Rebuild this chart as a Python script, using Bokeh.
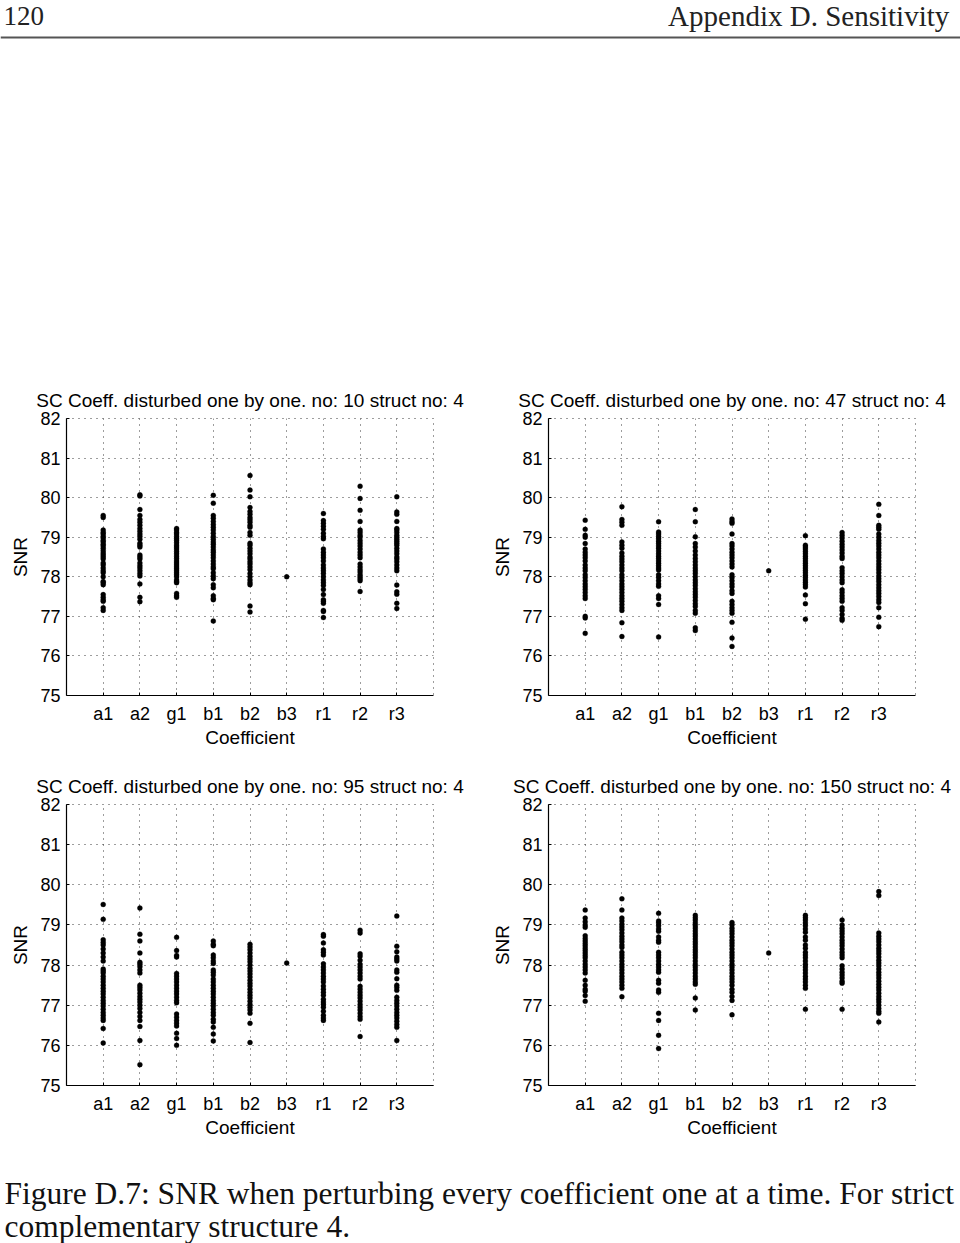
from bokeh.plotting import figure
from bokeh.models import FactorRange, Range1d, Label, Span
from bokeh.layouts import column, row
from bokeh.embed import file_html
from bokeh.resources import INLINE

coefficients = ["a1", "a2", "g1", "b1", "b2", "b3", "r1", "r2", "r3"]
snr_ticks = [75, 76, 77, 78, 79, 80, 81, 82]
run_numbers = [10, 47, 95, 150]
struct_no = 4

# ---- run no: 10 ----
no10_a1 = [79.55, 79.5, 79.18, 79.12, 79.08, 79.02, 78.98, 78.92, 78.88, 78.82, 78.78, 78.72, 78.66, 78.6, 78.55, 78.5,
           78.45, 78.35, 78.3, 78.22, 78.15, 78.1, 78.0, 77.88, 77.85, 77.8, 77.55, 77.48, 77.42, 77.38, 77.22, 77.15]
no10_a2 = [80.07, 80.04, 79.7, 79.55, 79.45, 79.38, 79.3, 79.22, 79.15, 79.08, 79.02, 78.95, 78.85, 78.8, 78.75, 78.55,
           78.5, 78.45, 78.35, 78.28, 78.22, 78.15, 78.08, 78.02, 77.82, 77.48, 77.37]
no10_g1 = [79.22, 79.18, 79.12, 79.08, 79.02, 78.97, 78.92, 78.86, 78.8, 78.75, 78.7, 78.64, 78.58, 78.52, 78.46, 78.4,
           78.35, 78.3, 78.25, 78.2, 78.15, 78.1, 78.05, 78.0, 77.92, 77.88, 77.85, 77.58, 77.52, 77.48]
no10_b1 = [80.06, 79.86, 79.55, 79.48, 79.4, 79.32, 79.25, 79.18, 79.1, 79.02, 78.95, 78.88, 78.82, 78.75, 78.68, 78.62,
           78.55, 78.48, 78.4, 78.32, 78.25, 78.2, 78.1, 78.02, 77.95, 77.8, 77.72, 77.52, 77.45, 77.42, 76.88]
no10_b2 = [80.56, 80.19, 80.02, 79.75, 79.65, 79.58, 79.5, 79.44, 79.38, 79.3, 79.25, 79.12, 79.05, 78.85, 78.8, 78.72,
           78.65, 78.58, 78.5, 78.45, 78.38, 78.32, 78.25, 78.18, 78.08, 78.0, 77.92, 77.85, 77.8, 77.26, 77.11]
no10_b3 = [78.0]
no10_r1 = [79.6, 79.42, 79.35, 79.28, 79.2, 79.1, 79.02, 78.96, 78.7, 78.62, 78.55, 78.48, 78.4, 78.3, 78.22, 78.15,
           78.08, 78.0, 77.92, 77.85, 77.78, 77.68, 77.55, 77.42, 77.38, 77.33, 77.15, 77.12, 76.97]
no10_r2 = [80.29, 79.98, 79.68, 79.4, 79.18, 79.12, 79.05, 79.0, 78.92, 78.85, 78.78, 78.7, 78.62, 78.55, 78.48, 78.32,
           78.25, 78.18, 78.12, 78.05, 78.0, 77.95, 77.9, 77.63]
no10_r3 = [80.02, 79.64, 79.58, 79.4, 79.22, 79.18, 79.12, 79.05, 79.0, 78.95, 78.9, 78.85, 78.8, 78.72, 78.65, 78.58,
           78.5, 78.45, 78.38, 78.3, 78.22, 78.15, 77.79, 77.62, 77.56, 77.33, 77.2]

# ---- run no: 47 ----
no47_a1 = [79.43, 79.2, 79.05, 79.0, 78.84, 78.7, 78.62, 78.55, 78.48, 78.4, 78.3, 78.22, 78.15, 78.05, 77.98, 77.9,
           77.82, 77.75, 77.68, 77.6, 77.52, 77.45, 77.0, 76.96, 76.57]
no47_a2 = [79.77, 79.45, 79.38, 79.3, 78.88, 78.8, 78.72, 78.6, 78.52, 78.45, 78.38, 78.3, 78.22, 78.15, 78.05, 77.98,
           77.9, 77.82, 77.75, 77.68, 77.6, 77.52, 77.45, 77.38, 77.3, 77.22, 77.15, 76.84, 76.49]
no47_g1 = [79.39, 79.13, 79.08, 79.02, 78.96, 78.9, 78.84, 78.78, 78.72, 78.65, 78.58, 78.52, 78.46, 78.4, 78.34, 78.28,
           78.22, 78.17, 78.05, 77.98, 77.9, 77.82, 77.76, 77.52, 77.45, 77.3, 76.48]
no47_b1 = [79.7, 79.39, 79.01, 78.84, 78.75, 78.65, 78.55, 78.46, 78.38, 78.3, 78.22, 78.15, 78.08, 78.0, 77.92, 77.85,
           77.78, 77.7, 77.62, 77.55, 77.48, 77.4, 77.32, 77.25, 77.15, 77.08, 76.71, 76.64]
no47_b2 = [79.46, 79.4, 79.35, 79.08, 78.84, 78.78, 78.7, 78.62, 78.55, 78.48, 78.4, 78.32, 78.25, 78.05, 77.98, 77.9,
           77.82, 77.75, 77.65, 77.58, 77.38, 77.3, 77.22, 77.15, 77.08, 76.85, 76.45, 76.24]
no47_b3 = [78.15]
no47_r1 = [79.04, 78.8, 78.75, 78.7, 78.64, 78.58, 78.52, 78.46, 78.4, 78.34, 78.28, 78.22, 78.16, 78.1, 78.04, 77.98,
           77.92, 77.86, 77.8, 77.74, 77.54, 77.32, 76.93]
no47_r2 = [79.12, 79.05, 78.98, 78.9, 78.82, 78.75, 78.68, 78.6, 78.52, 78.46, 78.23, 78.15, 78.08, 78.0, 77.92, 77.85,
           77.67, 77.6, 77.52, 77.45, 77.38, 77.22, 77.15, 77.05, 76.95, 76.9]
no47_r3 = [79.83, 79.55, 79.3, 79.25, 79.2, 79.08, 79.0, 78.92, 78.85, 78.78, 78.7, 78.62, 78.55, 78.48, 78.4, 78.32,
           78.25, 78.18, 78.1, 78.02, 77.95, 77.88, 77.8, 77.72, 77.65, 77.58, 77.5, 77.42, 77.35, 77.22, 76.98, 76.74]

# ---- run no: 95 ----
no95_a1 = [79.51, 79.14, 78.63, 78.56, 78.5, 78.4, 78.3, 78.2, 78.1, 77.9, 77.85, 77.8, 77.72, 77.65, 77.58, 77.5,
           77.42, 77.35, 77.28, 77.2, 77.12, 77.05, 76.98, 76.9, 76.82, 76.75, 76.68, 76.62, 76.42, 76.06]
no95_a2 = [79.42, 78.77, 78.6, 78.3, 78.07, 78.02, 77.96, 77.88, 77.8, 77.5, 77.44, 77.38, 77.3, 77.22, 77.15, 77.08,
           77.0, 76.92, 76.82, 76.72, 76.62, 76.47, 76.12, 75.52]
no95_g1 = [78.69, 78.36, 78.24, 78.2, 77.79, 77.72, 77.65, 77.58, 77.5, 77.42, 77.35, 77.28, 77.2, 77.12, 77.06, 76.78,
           76.7, 76.62, 76.55, 76.48, 76.3, 76.17, 76.0]
no95_b1 = [78.6, 78.52, 78.48, 78.25, 78.18, 78.1, 78.04, 77.88, 77.82, 77.75, 77.65, 77.58, 77.5, 77.42, 77.35, 77.28,
           77.2, 77.12, 77.05, 76.98, 76.9, 76.82, 76.75, 76.65, 76.58, 76.45, 76.28, 76.11]
no95_b2 = [78.52, 78.45, 78.38, 78.3, 78.22, 78.15, 78.08, 78.0, 77.92, 77.85, 77.78, 77.7, 77.62, 77.55, 77.48, 77.4,
           77.32, 77.25, 77.18, 77.1, 77.02, 76.95, 76.88, 76.8, 76.55, 76.07]
no95_b3 = [78.05]
no95_r1 = [78.76, 78.72, 78.55, 78.38, 78.32, 78.25, 78.03, 77.95, 77.88, 77.8, 77.72, 77.65, 77.58, 77.48, 77.4, 77.32,
           77.25, 77.15, 77.08, 77.02, 76.95, 76.85, 76.75, 76.68, 76.62]
no95_r2 = [78.87, 78.8, 78.28, 78.22, 78.12, 78.02, 77.95, 77.88, 77.8, 77.72, 77.65, 77.47, 77.4, 77.32, 77.25, 77.18,
           77.1, 77.02, 76.95, 76.88, 76.8, 76.72, 76.65, 76.22]
no95_r3 = [79.22, 78.47, 78.33, 78.2, 78.15, 78.1, 77.88, 77.82, 77.66, 77.5, 77.44, 77.37, 77.2, 77.12, 77.05, 76.98,
           76.9, 76.82, 76.75, 76.68, 76.6, 76.52, 76.45, 76.12]

# ---- run no: 150 ----
no150_a1 = [79.37, 79.17, 79.08, 79.0, 78.94, 78.73, 78.66, 78.6, 78.54, 78.48, 78.42, 78.36, 78.3, 78.24, 78.18, 78.1,
            78.02, 77.95, 77.88, 77.8, 77.62, 77.5, 77.4, 77.35, 77.24, 77.1]
no150_a2 = [79.65, 79.37, 79.17, 79.1, 79.02, 78.95, 78.88, 78.8, 78.72, 78.65, 78.58, 78.5, 78.44, 78.32, 78.25, 78.18,
            78.1, 78.02, 77.95, 77.88, 77.8, 77.72, 77.65, 77.58, 77.5, 77.42, 77.21]
no150_g1 = [79.29, 79.1, 79.05, 78.98, 78.9, 78.84, 78.7, 78.62, 78.57, 78.32, 78.25, 78.18, 78.1, 78.02, 77.95, 77.88,
            77.82, 77.62, 77.55, 77.38, 77.32, 76.8, 76.62, 76.25, 75.92]
no150_b1 = [79.24, 79.18, 79.12, 79.05, 78.98, 78.92, 78.85, 78.78, 78.72, 78.65, 78.58, 78.52, 78.45, 78.38, 78.32, 78.25,
            78.18, 78.1, 78.02, 77.95, 77.88, 77.8, 77.72, 77.65, 77.58, 77.52, 77.18, 76.88]
no150_b2 = [79.06, 79.0, 78.92, 78.85, 78.78, 78.7, 78.62, 78.55, 78.48, 78.4, 78.32, 78.25, 78.18, 78.1, 78.02, 77.95,
            77.88, 77.8, 77.72, 77.65, 77.58, 77.5, 77.4, 77.32, 77.22, 77.12, 76.76]
no150_b3 = [78.3]
no150_r1 = [79.24, 79.18, 79.12, 79.05, 78.98, 78.9, 78.82, 78.7, 78.62, 78.5, 78.42, 78.32, 78.25, 78.18, 78.1, 78.02,
            77.95, 77.88, 77.8, 77.72, 77.65, 77.58, 77.5, 77.42, 76.9]
no150_r2 = [79.12, 79.0, 78.92, 78.85, 78.78, 78.7, 78.62, 78.55, 78.48, 78.4, 78.32, 78.25, 78.18, 77.98, 77.9, 77.82,
            77.75, 77.68, 77.6, 77.55, 76.9]
no150_r3 = [79.83, 79.73, 78.8, 78.72, 78.65, 78.58, 78.5, 78.42, 78.35, 78.28, 78.2, 78.12, 78.05, 77.98, 77.9, 77.82,
            77.75, 77.68, 77.6, 77.52, 77.45, 77.38, 77.3, 77.22, 77.15, 77.08, 77.0, 76.92, 76.85, 76.8, 76.58]

page_number = "120"
chapter_head = "Appendix D.  Sensitivity"
caption_lines = ["Figure D.7: SNR when perturbing every coefficient one at a time. For strict",
                 "complementary structure 4."]

panels = {
    10: [no10_a1, no10_a2, no10_g1, no10_b1, no10_b2, no10_b3, no10_r1, no10_r2, no10_r3],
    47: [no47_a1, no47_a2, no47_g1, no47_b1, no47_b2, no47_b3, no47_r1, no47_r2, no47_r3],
    95: [no95_a1, no95_a2, no95_g1, no95_b1, no95_b2, no95_b3, no95_r1, no95_r2, no95_r3],
    150: [no150_a1, no150_a2, no150_g1, no150_b1, no150_b2, no150_b3, no150_r1, no150_r2, no150_r3],
}

SANS = "Liberation Sans"
SERIF = "Liberation Serif"
GRID_COLOR = "#3a3a3a"


def make_panel(run_no, width, height, left, right, top, bottom):
    xs, ys = [], []
    for cat, vals in zip(coefficients, panels[run_no]):
        xs.extend([cat] * len(vals))
        ys.extend(vals)
    p = figure(width=width, height=height,
               x_range=FactorRange(factors=coefficients, range_padding=0.5,
                                   range_padding_units="absolute"),
               y_range=Range1d(75, 82),
               output_backend="svg", toolbar_location=None,
               min_border_left=left, min_border_right=right,
               min_border_top=top, min_border_bottom=bottom,
               title=f"SC Coeff. disturbed one by one. no: {run_no} struct no: {struct_no}")
    p.scatter(xs, ys, size=5, fill_color="black", line_color="black", line_width=0.3)

    p.title.align = "center"
    p.title.text_font = SANS
    p.title.text_font_size = "19px"
    p.title.text_font_style = "normal"
    p.title.text_color = "black"
    p.title.standoff = 15

    p.yaxis.ticker = snr_ticks
    p.xaxis.axis_label = "Coefficient"
    p.yaxis.axis_label = "SNR"
    for ax in (p.xaxis, p.yaxis):
        ax.axis_line_color = "black"
        ax.axis_line_width = 1.2
        ax.major_tick_in = 3
        ax.major_tick_out = 0
        ax.minor_tick_in = 0
        ax.minor_tick_out = 0
        ax.major_tick_line_color = "black"
        ax.major_label_text_font = SANS
        ax.major_label_text_font_size = "18px"
        ax.major_label_text_color = "black"
        ax.axis_label_text_font = SANS
        ax.axis_label_text_font_size = "19px"
        ax.axis_label_text_font_style = "normal"
        ax.axis_label_text_color = "black"
    p.xaxis.major_label_standoff = 8
    p.xaxis.axis_label_standoff = 0
    p.yaxis.major_label_standoff = 6
    p.yaxis.axis_label_standoff = 6

    for g in (p.xgrid, p.ygrid):
        g.grid_line_color = GRID_COLOR
        g.grid_line_dash = "1 5"
        g.grid_line_width = 1
    p.outline_line_color = GRID_COLOR
    p.outline_line_dash = "1 5"
    p.outline_line_width = 1
    p.background_fill_color = "white"
    p.border_fill_color = "white"
    return p


# header (page number, running head and rule)
hdr = figure(width=960, height=380, x_range=Range1d(0, 960), y_range=Range1d(380, 0),
             output_backend="svg", toolbar_location=None, min_border=0,
             x_axis_type=None, y_axis_type=None, title=None)
hdr.outline_line_color = None
hdr.grid.visible = False
hdr.add_layout(Label(x=3, y=15, text=page_number, text_font=SERIF, text_font_size="27px",
                     text_baseline="middle", text_align="left", text_color="#222222"))
hdr.add_layout(Label(x=956, y=15, text=chapter_head, text_font=SERIF, text_font_size="29px",
                     text_baseline="middle", text_align="right", text_color="#222222"))
hdr.add_layout(Span(location=37, dimension="width", line_color="#555555", line_width=2))

p1 = make_panel(10, 488, 380, 66, 55, 35, 65)
p2 = make_panel(47, 472, 380, 60, 45, 35, 65)
p3 = make_panel(95, 488, 380, 66, 55, 44, 55)
p4 = make_panel(150, 472, 380, 60, 45, 44, 55)

cap = figure(width=960, height=103, x_range=Range1d(0, 960), y_range=Range1d(103, 0),
             output_backend="svg", toolbar_location=None, min_border=0,
             x_axis_type=None, y_axis_type=None, title=None)
cap.outline_line_color = None
cap.grid.visible = False
for i, line in enumerate(caption_lines):
    cap.add_layout(Label(x=4, y=53 + 33 * i, text=line, text_font=SERIF, text_font_size="31.5px",
                         text_baseline="middle", text_align="left", text_color="#111111"))

layout = column(hdr, row(p1, p2), row(p3, p4), cap)

open("out.html", "w").write(file_html(layout, INLINE))
